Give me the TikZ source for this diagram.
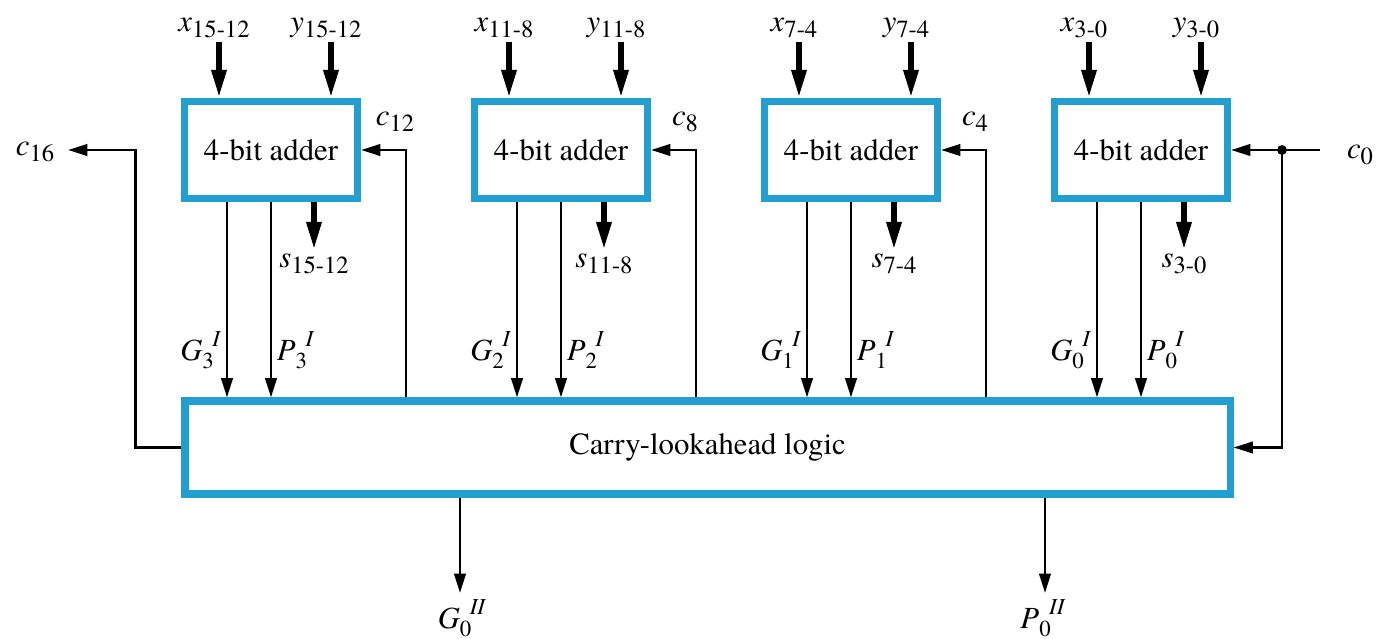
\documentclass[tikz,border=0pt]{standalone}
\usepackage{fontspec}
\setmainfont{texgyretermes}[Extension=.otf, UprightFont=*-regular, ItalicFont=*-italic, BoldFont=*-bold, BoldItalicFont=*-bolditalic]
\usetikzlibrary{arrows.meta,positioning}
\definecolor{claBlue}{RGB}{35,158,208}
\newcommand\bus[2]{\textit{#1}\raisebox{-0.45ex}{\fontsize{14}{14}\selectfont #2}}
\newcommand\grp[3]{\textit{#1}\raisebox{-0.6ex}{\fontsize{13}{13}\selectfont #2}\kern-0.05em\raisebox{1.0ex}{\fontsize{13}{13}\selectfont\textit{#3}}}
\tikzset{
  adder/.style={draw=claBlue, line width=4pt, fill=white, minimum width=34.6mm, minimum height=19.4mm, font=\fontsize{17.5}{20}\selectfont},
  lab/.style={font=\fontsize{17.5}{20}\selectfont, inner sep=2pt},
  wire/.style={line width=1.5pt, -{Triangle[length=11pt,width=6.5pt]}},
  bus/.style={line width=3.4pt, -{Triangle[length=16pt,width=8pt]}},
}
\begin{document}
\begin{tikzpicture}[x=0.2mm, y=-0.2mm]
  \useasboundingbox (0,0) rectangle (1378,639);
  \node[adder, minimum width=209mm, minimum height=18.6mm] (cla) at (707.5,447.5) {Carry-lookahead logic};
  \foreach \i/\xa/\rng/\cn in {3/271/15-12/12, 2/561/11-8/8, 1/851/7-4/4, 0/1141/3-0/0} {
    \node[adder] (a\i) at (\xa,150) {4-bit adder};
    % operand inputs
    \coordinate (xin\i) at (\xa-52,42);
    \coordinate (yin\i) at (\xa+60,42);
    \node[lab, above=0pt of xin\i, xshift=-1mm] (xl\i) {\bus{x}{\rng}};
    \node[lab, above=0pt of yin\i, xshift=-1mm] (yl\i) {\bus{y}{\rng}};
    \draw[bus] (xin\i) -- (xin\i |- a\i.north);
    \draw[bus] (yin\i) -- (yin\i |- a\i.north);
    % sum output
    \coordinate (sout\i) at (\xa+43,250);
    \node[lab, below=0pt of sout\i] (sl\i) {\bus{s}{\rng}};
    \draw[bus] (sout\i |- a\i.south) -- (sout\i);
    % group generate / propagate
    \draw[wire] ([xshift=-8.8mm]a\i.south) -- ([xshift=-8.8mm]a\i.south |- cla.north);
    \draw[wire] (a\i.south) -- (a\i.south |- cla.north);
    \node[lab, anchor=east] (g\i) at (\xa-46,350) {\grp{G}{\i}{I}};
    \node[lab, anchor=west] (p\i) at (\xa+2,350) {\grp{P}{\i}{I}};
    % carries back into the adders
    \ifnum\i>0
      \draw[wire] ([xshift=27mm]a\i.center |- cla.north) |- (a\i.east);
      \node[lab] (c\cn) at (\xa+124,122) {\bus{c}{\cn}};
    \fi
  }
  % carry out and carry in
  \coordinate (cout) at (68,150);
  \draw[wire] (cla.west) -- ++(-46,0) |- (cout);
  \node[lab] (c16) at (35,152) {\bus{c}{16}};
  \coordinate (cin) at (1320,150);
  \coordinate (tap) at (1282,150);
  \draw[wire] (cin) -- (a0.east);
  \fill (tap) circle (2.8pt);
  \draw[wire] (tap) |- (cla.east);
  \node[lab] (c0) at (1360,155) {\bus{c}{0}};
  % second level outputs
  \coordinate (gout) at (460,593);
  \coordinate (pout) at (1045,593);
  \draw[wire] (gout |- cla.south) -- (gout);
  \draw[wire] (pout |- cla.south) -- (pout);
  \node[lab] (gII) at (462,618) {\grp{G}{0}{II}};
  \node[lab] (pII) at (1043,618) {\grp{P}{0}{II}};
\end{tikzpicture}
\end{document}
